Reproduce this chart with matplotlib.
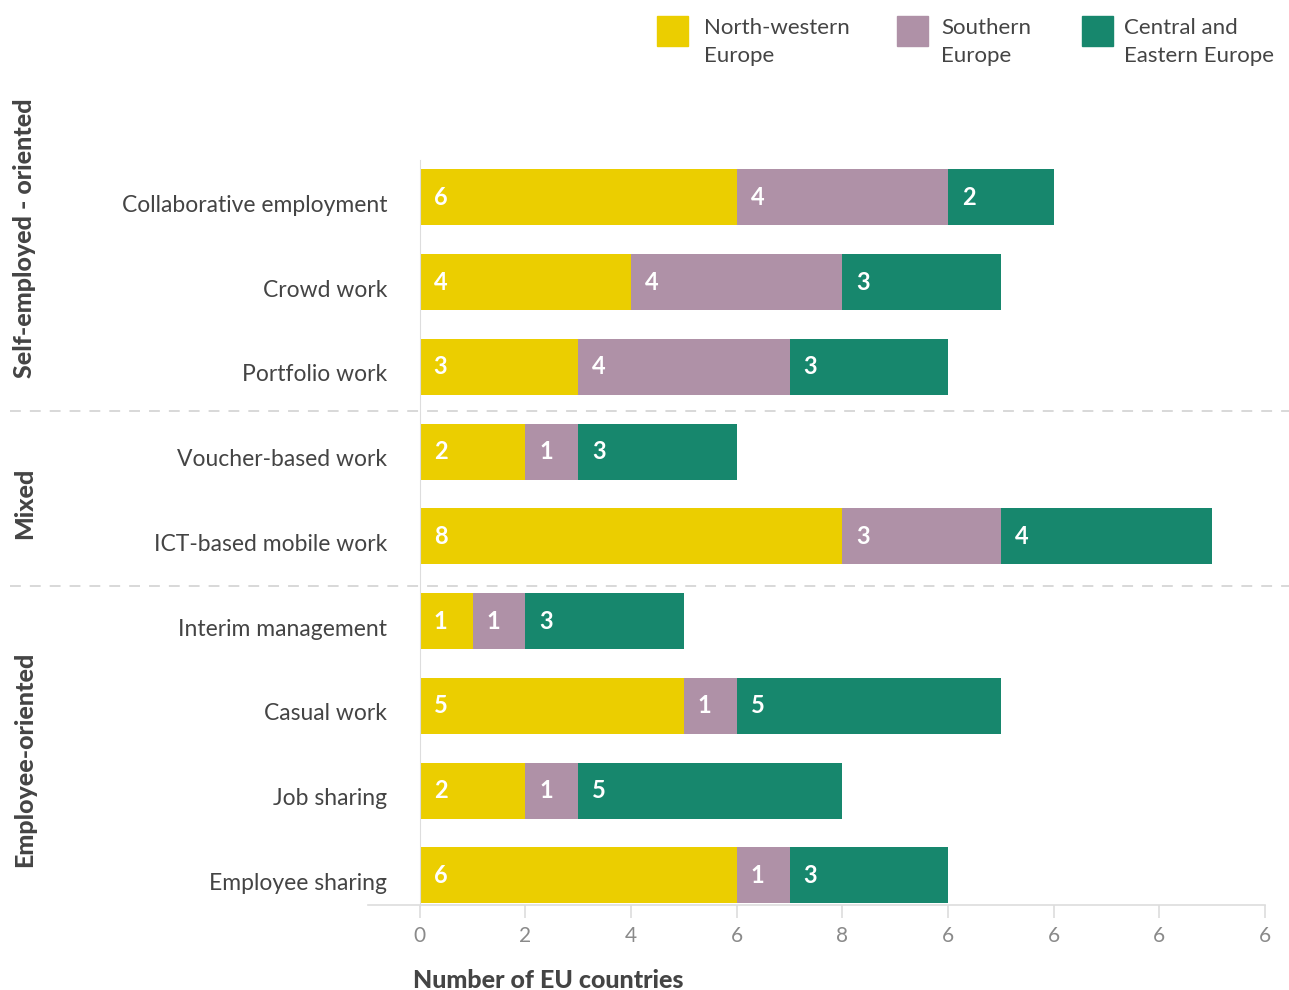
import matplotlib.pyplot as plt
import matplotlib.transforms as mtransforms
from matplotlib.lines import Line2D
from matplotlib.patches import Rectangle

plt.rcParams['font.family'] = ['Lato', 'DejaVu Sans']

# Work forms, top to bottom
categories = ['Collaborative employment', 'Crowd work', 'Portfolio work',
              'Voucher-based work', 'ICT-based mobile work',
              'Interim management', 'Casual work', 'Job sharing',
              'Employee sharing']
north_western = [6, 4, 3, 2, 8, 1, 5, 2, 6]
southern = [4, 4, 4, 1, 3, 1, 1, 1, 1]
central_eastern = [2, 3, 3, 3, 4, 3, 5, 5, 3]

series = [('North-western\nEurope', north_western, '#EBCE00'),
          ('Southern\nEurope', southern, '#AF91A7'),
          ('Central and\nEastern Europe', central_eastern, '#17876D')]

groups = ['Self-employed - oriented', 'Mixed', 'Employee-oriented']
xtick_values = [0, 2, 4, 6, 8, 10, 12, 14, 16]
xtick_labels = ['0', '2', '4', '6', '8', '6', '6', '6', '6']

W, H = 1289, 990
fig = plt.figure(figsize=(W / 100, H / 100), dpi=100)
ax = fig.add_axes([368 / W, 1 - 905 / H, (1265 - 368) / W, (905 - 160) / H])

text_col = '#444444'
rows = list(range(len(categories)))
left = [0] * len(categories)
for name, vals, col in series:
    ax.barh(rows, vals, left=left, height=0.66, color=col, label=name)
    for r, v, l in zip(rows, vals, left):
        ax.annotate(str(v), (l, r), xytext=(10, 0), textcoords='offset points',
                    ha='left', va='center', color='white', fontsize=17,
                    fontweight='bold')
    left = [a + b for a, b in zip(left, vals)]

ax.set_xlim(-0.98, 16)
ax.set_ylim(8.35, -0.44)

# category names sit to the left of the zero line, a little below bar centre
ax.set_yticks(rows)
ax.set_yticklabels([])
ax.tick_params(axis='y', length=0)
shift = mtransforms.ScaledTranslation(0, -8 / 100, fig.dpi_scale_trans)
for r, name in zip(rows, categories):
    ax.text((387 - 368) / 897, r, name, transform=ax.get_yaxis_transform() + shift,
            ha='right', va='center', fontsize=16.5, color=text_col)

ax.set_xticks(xtick_values)
ax.set_xticklabels(xtick_labels)
ax.tick_params(axis='x', length=9, color='#dddddd', width=1.2, pad=6,
               labelsize=15, labelcolor='#8a8a8a')

for s in ['top', 'right']:
    ax.spines[s].set_visible(False)
ax.spines['left'].set_position(('data', 0))
ax.spines['left'].set_color('#dddddd')
ax.spines['bottom'].set_color('#dddddd')
ax.spines['bottom'].set_linewidth(1.2)
ax.set_zorder(1)

# dashed separators between the groups, across the full width
for ypix in [411, 586]:
    fig.add_artist(Line2D([10 / W, 1], [1 - ypix / H] * 2, color='#d5d5d5',
                          lw=1.3, ls=(0, (6, 5))))

# group labels
for g, ypix in zip(groups, [238, 503, 759]):
    fig.text(25 / W, 1 - ypix / H, g, rotation=90, ha='center', va='center',
             fontsize=18, fontweight='black', color=text_col)

fig.text(413 / W, 1 - 980 / H, 'Number of EU countries', ha='left',
         va='center', fontsize=18, fontweight='black', color=text_col)

# legend drawn by hand along the top
for (name, _, col), xs, xt in zip(series, [657, 897, 1082], [704, 941, 1124]):
    fig.add_artist(Rectangle((xs / W, 1 - 46 / H), 31 / W, 30 / H,
                             color=col, transform=fig.transFigure))
    fig.text(xt / W, 1 - 42 / H, name, ha='left', va='center', fontsize=16,
             color=text_col, linespacing=1.45)

fig.savefig('out.png', dpi=100)
